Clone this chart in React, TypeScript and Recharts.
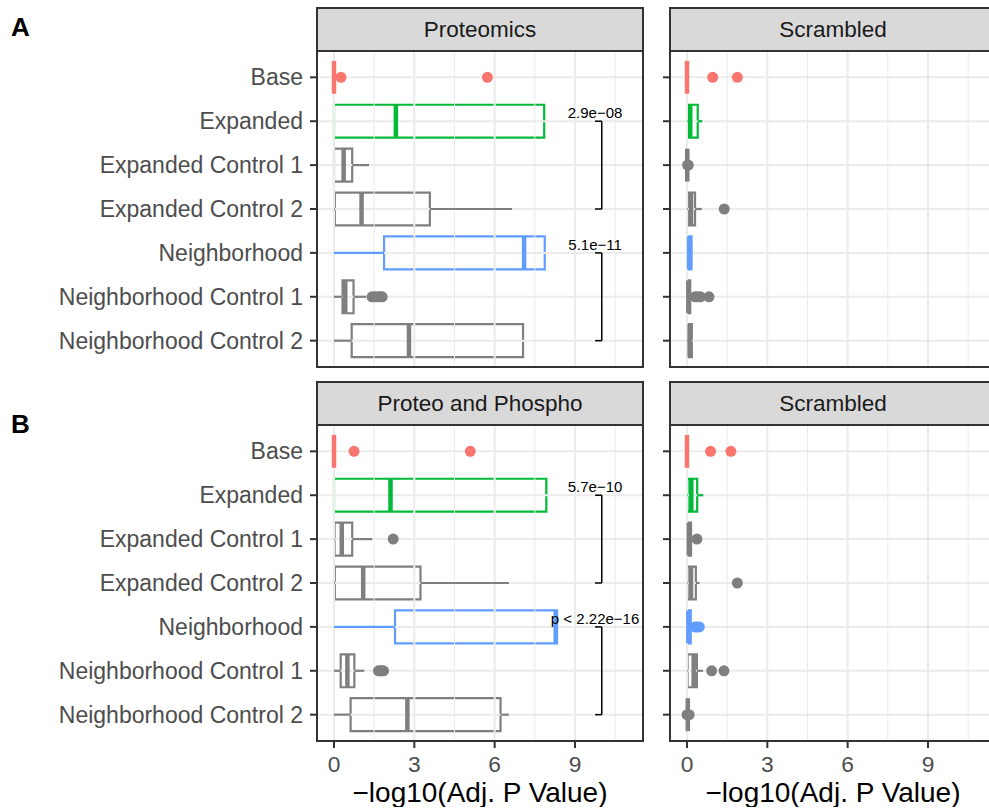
import { ScatterChart, Scatter, XAxis, YAxis, ReferenceArea, ReferenceLine, ReferenceDot } from 'recharts'

const categories = [
  'Base',
  'Expanded',
  'Expanded Control 1',
  'Expanded Control 2',
  'Neighborhood',
  'Neighborhood Control 1',
  'Neighborhood Control 2',
]
const catColors = ['#F8766D', '#00BA38', '#7F7F7F', '#7F7F7F', '#619CFF', '#7F7F7F', '#7F7F7F']

// box stats per category: [lower whisker, q1, median, q3, upper whisker]
const proteomicsStats = [
  [0, 0, 0, 0, 0],
  [0, 0, 2.31, 7.85, 7.85],
  [0, 0, 0.36, 0.68, 1.31],
  [0, 0.03, 1.03, 3.58, 6.65],
  [0, 1.87, 7.1, 7.87, 7.87],
  [0, 0.32, 0.42, 0.73, 1.2],
  [0, 0.66, 2.8, 7.06, 7.06],
]
const proteomicsOutliers = [[0.26, 5.73], [], [], [], [], [1.42, 1.52, 1.62, 1.72, 1.8], []]

const scrambledAStats = [
  [0, 0, 0, 0, 0],
  [0, 0.02, 0.12, 0.4, 0.57],
  [0.01, 0.01, 0.01, 0.01, 0.01],
  [0, 0.03, 0.15, 0.3, 0.55],
  [0, 0.02, 0.08, 0.17, 0.22],
  [0, 0.01, 0.05, 0.12, 0.2],
  [0, 0.02, 0.1, 0.18, 0.2],
]
const scrambledAOutliers = [[0.96, 1.88], [], [0.02, 0.05], [1.39], [], [0.3, 0.4, 0.5, 0.82], []]

const phosphoStats = [
  [0, 0, 0, 0, 0],
  [0, 0, 2.11, 7.93, 7.93],
  [0, 0.02, 0.29, 0.68, 1.43],
  [0, 0.03, 1.09, 3.23, 6.53],
  [0, 2.28, 8.28, 8.33, 8.33],
  [0, 0.25, 0.5, 0.76, 1.13],
  [0, 0.62, 2.74, 6.22, 6.53],
]
const phosphoOutliers = [[0.75, 5.09], [], [2.21], [], [], [1.66, 1.72, 1.78, 1.85], []]

const scrambledBStats = [
  [0, 0, 0, 0, 0],
  [0, 0.02, 0.16, 0.38, 0.61],
  [0, 0.02, 0.07, 0.15, 0.2],
  [0, 0.02, 0.15, 0.33, 0.47],
  [0, 0.01, 0.05, 0.14, 0.2],
  [0, 0.02, 0.25, 0.37, 0.6],
  [0.03, 0.03, 0.03, 0.03, 0.03],
]
const scrambledBOutliers = [[0.88, 1.64], [], [0.37], [1.88], [0.3, 0.38, 0.46], [0.92, 1.38], [0, 0.08]]

// comparisons: [from category, to category] and p-value text
const sigPairs = [[2, 4], [5, 7]]
const sigProteomics = ['2.9e−08', '5.1e−11']
const sigPhospho = ['5.7e−10', 'p < 2.22e−16']

const xTicks = [0, 3, 6, 9]
const xMinor = [1.5, 4.5, 7.5, 10.5]
const yTicks = [1, 2, 3, 4, 5, 6, 7]
const xDomain = [-0.635, 11.54]

const FONT = '"Liberation Sans", Arial, Helvetica, sans-serif'
const GRID = '#EBEBEB'
const HALF = 0.375

interface PanelProps {
  stats: number[][]
  outliers: number[][]
  sig?: string[]
  labels: boolean
  bottom: boolean
  left: number
  top: number
  width: number
  height: number
  yWidth: number
}

function Panel({ stats, outliers, sig, labels, bottom, left, top, width, height, yWidth }: PanelProps) {
  const points = outliers.flatMap((vals, i) => vals.map((v) => ({ x: v, y: i + 1, cat: i })))
  return (
    <div style={{ position: 'absolute', left, top }}>
      <ScatterChart width={width} height={height} margin={{ top: 4, right: 4, bottom: bottom ? 0 : 4, left: 0 }}>
        <XAxis
          type="number"
          dataKey="x"
          domain={xDomain}
          ticks={xTicks}
          interval={0}
          allowDataOverflow
          hide={!bottom}
          height={66}
          axisLine={false}
          tickSize={7}
          tickMargin={8}
          tickLine={{ stroke: '#333333', strokeWidth: 2 }}
          tick={{ fontSize: 22.8, fill: '#4D4D4D', fontFamily: FONT }}
          label={{ value: '−log10(Adj. P Value)', position: 'insideBottom', offset: 5, fontSize: 28, fill: '#000', fontFamily: FONT }}
        />
        <YAxis
          type="number"
          dataKey="y"
          domain={[0.4, 7.6]}
          ticks={yTicks}
          interval={0}
          reversed
          allowDataOverflow
          width={yWidth}
          axisLine={false}
          tickSize={7}
          tickMargin={7}
          tickLine={{ stroke: '#333333', strokeWidth: 2 }}
          tick={{ fontSize: 23, fill: '#4D4D4D', fontFamily: FONT }}
          tickFormatter={(v: number) => (labels ? categories[v - 1] : '')}
        />
        {xMinor.map((v) => (
          <ReferenceLine key={'mn' + v} x={v} stroke={GRID} strokeWidth={1} />
        ))}
        {xTicks.map((v) => (
          <ReferenceLine key={'mx' + v} x={v} stroke={GRID} strokeWidth={2} />
        ))}
        {yTicks.map((v) => (
          <ReferenceLine key={'my' + v} y={v} stroke={GRID} strokeWidth={2} />
        ))}
        <Scatter
          data={points}
          isAnimationActive={false}
          shape={(p: any) => <circle cx={p.cx} cy={p.cy} r={5.5} fill={catColors[p.payload.cat]} />}
        />
        {stats.map(([lo, q1, med, q3, hi], i) => {
          const y = i + 1
          const c = catColors[i]
          return [
            q1 > lo && (
              <ReferenceLine key={'wl' + i} segment={[{ x: lo, y }, { x: q1, y }]} stroke={c} strokeWidth={2.2} />
            ),
            hi > q3 && (
              <ReferenceLine key={'wh' + i} segment={[{ x: q3, y }, { x: hi, y }]} stroke={c} strokeWidth={2.2} />
            ),
            q3 > q1 && (
              <ReferenceArea
                key={'bx' + i}
                x1={q1}
                x2={q3}
                y1={y - HALF}
                y2={y + HALF}
                fill="#fff"
                fillOpacity={1}
                stroke={c}
                strokeWidth={2.2}
              />
            ),
            <ReferenceLine
              key={'md' + i}
              segment={[{ x: med, y: y - HALF }, { x: med, y: y + HALF }]}
              stroke={c}
              strokeWidth={4.5}
            />,
          ]
        })}
        {sig &&
          sigPairs.map(([a, b], k) => [
            <ReferenceLine key={'sv' + k} segment={[{ x: 10, y: a }, { x: 10, y: b }]} stroke="#000" strokeWidth={1.5} />,
            <ReferenceLine key={'sa' + k} segment={[{ x: 9.75, y: a }, { x: 10, y: a }]} stroke="#000" strokeWidth={1.5} />,
            <ReferenceLine key={'sb' + k} segment={[{ x: 9.75, y: b }, { x: 10, y: b }]} stroke="#000" strokeWidth={1.5} />,
            <ReferenceDot
              key={'sl' + k}
              x={9.75}
              y={a}
              r={1}
              fill="none"
              stroke="none"
              label={{ value: sig[k], position: 'top', offset: 2, fontSize: 15, fill: '#000', fontFamily: FONT }}
            />,
          ])}
      </ScatterChart>
    </div>
  )
}

const stripStyle = (left: number, top: number): React.CSSProperties => ({
  position: 'absolute',
  left,
  top,
  width: 328,
  height: 45,
  boxSizing: 'border-box',
  border: '2px solid #333333',
  background: '#D9D9D9',
  color: '#1A1A1A',
  fontSize: 22.5,
  display: 'flex',
  alignItems: 'center',
  justifyContent: 'center',
})

const borderStyle = (left: number, top: number): React.CSSProperties => ({
  position: 'absolute',
  left,
  top,
  width: 328,
  height: 318,
  boxSizing: 'border-box',
  border: '2px solid #333333',
  pointerEvents: 'none',
})

export default function App() {
  return (
    <div
      style={{
        position: 'fixed',
        left: 0,
        top: 0,
        width: 989,
        height: 812,
        overflow: 'hidden',
        background: '#fff',
        fontFamily: FONT,
      }}
    >
      <Panel stats={proteomicsStats} outliers={proteomicsOutliers} sig={sigProteomics} labels bottom={false}
        left={0} top={47} width={647} height={324} yWidth={317} />
      <Panel stats={scrambledAStats} outliers={scrambledAOutliers} labels={false} bottom={false}
        left={660} top={47} width={340} height={324} yWidth={10} />
      <Panel stats={phosphoStats} outliers={phosphoOutliers} sig={sigPhospho} labels bottom
        left={0} top={421} width={647} height={386} yWidth={317} />
      <Panel stats={scrambledBStats} outliers={scrambledBOutliers} labels={false} bottom
        left={660} top={421} width={340} height={386} yWidth={10} />

      <div style={stripStyle(316, 7)}>Proteomics</div>
      <div style={stripStyle(669, 7)}>Scrambled</div>
      <div style={stripStyle(316, 381)}>Proteo and Phospho</div>
      <div style={stripStyle(669, 381)}>Scrambled</div>
      <div style={borderStyle(316, 50)} />
      <div style={borderStyle(669, 50)} />
      <div style={borderStyle(316, 424)} />
      <div style={borderStyle(669, 424)} />

      <div style={{ position: 'absolute', left: 11, top: 14, fontSize: 26, fontWeight: 'bold', lineHeight: '26px' }}>A</div>
      <div style={{ position: 'absolute', left: 11, top: 411, fontSize: 26, fontWeight: 'bold', lineHeight: '26px' }}>B</div>
    </div>
  )
}
